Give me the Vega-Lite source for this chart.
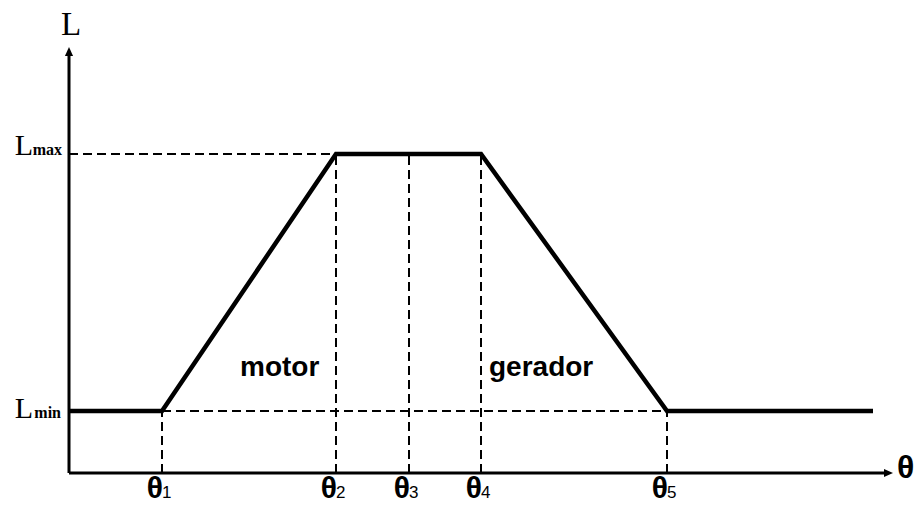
{
  "$schema": "https://vega.github.io/schema/vega-lite/v6.json",
  "width": 914,
  "height": 505,
  "padding": 0,
  "autosize": "none",
  "background": "white",
  "config": {"view": {"stroke": null}},
  "datasets": {
    "curve": [
      {"theta": 0, "L": 62},
      {"theta": 93, "L": 62},
      {"theta": 267, "L": 319},
      {"theta": 412, "L": 319},
      {"theta": 598, "L": 62},
      {"theta": 804, "L": 62}
    ],
    "guides": [
      {"theta": 0, "theta2": 267, "L": 319, "L2": 319},
      {"theta": 93, "theta2": 598, "L": 62, "L2": 62},
      {"theta": 93, "theta2": 93, "L": 0, "L2": 62},
      {"theta": 267, "theta2": 267, "L": 0, "L2": 319},
      {"theta": 340, "theta2": 340, "L": 0, "L2": 319},
      {"theta": 412, "theta2": 412, "L": 0, "L2": 319},
      {"theta": 598, "theta2": 598, "L": 0, "L2": 62}
    ],
    "axes": [
      {"name": "L", "theta": 0, "theta2": 0, "L": 0, "L2": 420},
      {"name": "θ", "theta": 0, "theta2": 818, "L": 0, "L2": 0}
    ],
    "arrows": [
      {"name": "L", "theta": 0, "L": 426},
      {"name": "θ", "theta": 824, "L": 0}
    ],
    "ticks": [
      {"sub": "1", "theta": 93, "L": 0},
      {"sub": "2", "theta": 267, "L": 0},
      {"sub": "3", "theta": 340, "L": 0},
      {"sub": "4", "theta": 412, "L": 0},
      {"sub": "5", "theta": 598, "L": 0}
    ],
    "levels": [
      {"sub": "max", "theta": 0, "L": 319},
      {"sub": "min", "theta": 0, "L": 62}
    ],
    "regions": [
      {"name": "motor", "theta": 171, "L": 97},
      {"name": "gerador", "theta": 420, "L": 97}
    ]
  },
  "encoding": {
    "x": {"field": "theta", "type": "quantitative", "axis": null,
          "scale": {"domain": [-69, 845], "nice": false, "zero": false}},
    "y": {"field": "L", "type": "quantitative", "axis": null,
          "scale": {"domain": [-32, 473], "nice": false, "zero": false}}
  },
  "layer": [
    {
      "data": {"name": "guides"},
      "mark": {"type": "rule", "color": "black", "strokeWidth": 2, "strokeDash": [9, 5]},
      "encoding": {"x2": {"field": "theta2"}, "y2": {"field": "L2"}}
    },
    {
      "data": {"name": "axes"},
      "mark": {"type": "rule", "color": "black", "strokeWidth": 3},
      "encoding": {"x2": {"field": "theta2"}, "y2": {"field": "L2"}}
    },
    {
      "data": {"name": "arrows"},
      "transform": [{"filter": "datum.name === 'L'"}],
      "mark": {"type": "point", "shape": "M0,0L0.9,2L-0.9,2Z", "size": 81,
               "filled": true, "color": "black", "opacity": 1}
    },
    {
      "data": {"name": "arrows"},
      "transform": [{"filter": "datum.name === 'θ'"}],
      "mark": {"type": "point", "shape": "M0,0L-2,-0.9L-2,0.9Z", "size": 81,
               "filled": true, "color": "black", "opacity": 1}
    },
    {
      "data": {"name": "curve"},
      "mark": {"type": "line", "color": "black", "strokeWidth": 4.5}
    },
    {
      "data": {"name": "arrows"},
      "transform": [{"filter": "datum.name === 'L'"}],
      "mark": {"type": "text", "font": "Liberation Serif", "fontSize": 33,
               "align": "left", "baseline": "alphabetic", "dx": -8, "dy": -12, "color": "black"},
      "encoding": {"text": {"field": "name"}}
    },
    {
      "data": {"name": "arrows"},
      "transform": [{"filter": "datum.name === 'θ'"}],
      "mark": {"type": "text", "font": "Liberation Sans", "fontSize": 32, "fontWeight": "bold",
               "align": "left", "baseline": "alphabetic", "dx": 4, "dy": 5, "color": "black"},
      "encoding": {"text": {"field": "name"}}
    },
    {
      "data": {"name": "ticks"},
      "mark": {"type": "text", "font": "Liberation Sans", "fontSize": 30, "fontWeight": "bold",
               "align": "right", "baseline": "alphabetic", "dx": 1, "dy": 25, "color": "black"},
      "encoding": {"text": {"value": "θ"}}
    },
    {
      "data": {"name": "ticks"},
      "mark": {"type": "text", "font": "Liberation Sans", "fontSize": 17,
               "align": "left", "baseline": "alphabetic", "dx": 0, "dy": 25, "color": "black"},
      "encoding": {"text": {"field": "sub"}}
    },
    {
      "data": {"name": "levels"},
      "transform": [{"filter": "datum.sub === 'max'"}],
      "layer": [
        {
          "mark": {"type": "text", "font": "Liberation Serif", "fontSize": 30,
                   "align": "right", "baseline": "alphabetic", "dx": -36, "dy": 1, "color": "black"},
          "encoding": {"text": {"value": "L"}}
        },
        {
          "mark": {"type": "text", "font": "Liberation Serif", "fontSize": 16, "fontWeight": "bold",
                   "align": "right", "baseline": "alphabetic", "dx": -7, "dy": 1, "color": "black"},
          "encoding": {"text": {"field": "sub"}}
        }
      ]
    },
    {
      "data": {"name": "levels"},
      "transform": [{"filter": "datum.sub === 'min'"}],
      "layer": [
        {
          "mark": {"type": "text", "font": "Liberation Serif", "fontSize": 30,
                   "align": "right", "baseline": "alphabetic", "dx": -36, "dy": 7, "color": "black"},
          "encoding": {"text": {"value": "L"}}
        },
        {
          "mark": {"type": "text", "font": "Liberation Serif", "fontSize": 16, "fontWeight": "bold",
                   "align": "right", "baseline": "alphabetic", "dx": -8, "dy": 7, "color": "black"},
          "encoding": {"text": {"field": "sub"}}
        }
      ]
    },
    {
      "data": {"name": "regions"},
      "mark": {"type": "text", "font": "Liberation Sans", "fontSize": 28, "fontWeight": "bold",
               "align": "left", "baseline": "alphabetic", "color": "black"},
      "encoding": {"text": {"field": "name"}}
    }
  ]
}
